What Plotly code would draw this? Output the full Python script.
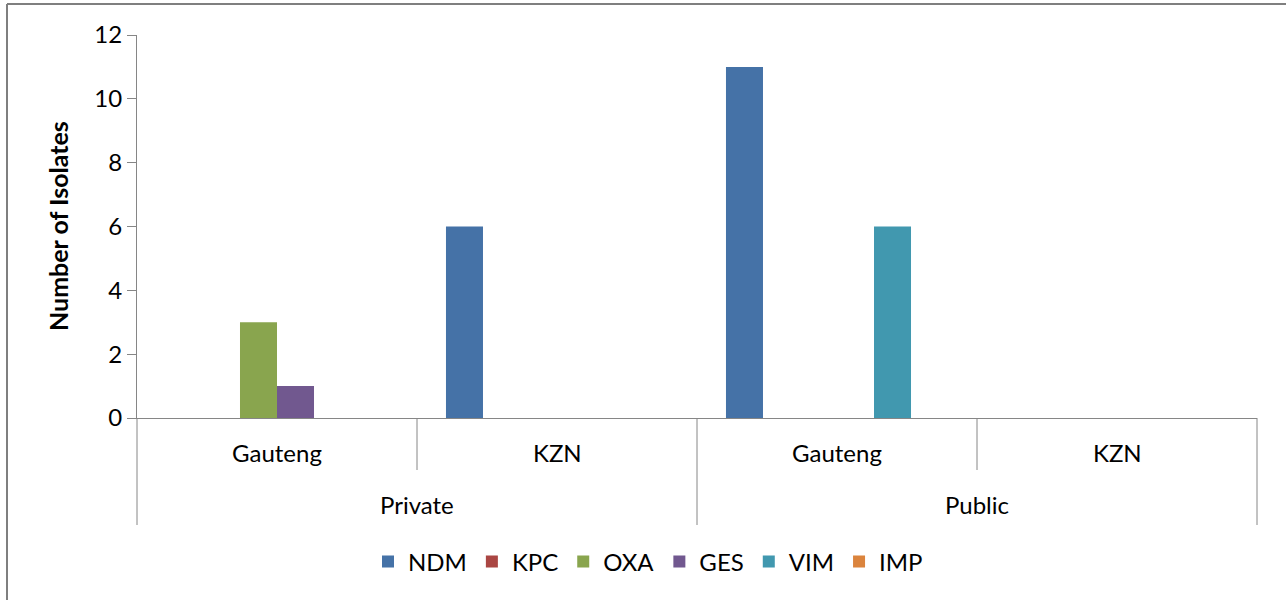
import plotly.graph_objects as go

sectors = ["Private", "Private", "Public", "Public"]
provinces = ["Gauteng", "KZN", "Gauteng", "KZN"]
series_names = ["NDM", "KPC", "OXA", "GES", "VIM", "IMP"]
ndm = [0, 6, 11, 0]
kpc = [0, 0, 0, 0]
oxa = [3, 0, 0, 0]
ges = [1, 0, 0, 0]
vim = [0, 0, 6, 0]
imp = [0, 0, 0, 0]
colors = ["#4572A7", "#AA4643", "#89A54E", "#71588F", "#4198AF", "#DB843D"]
y_ticks = [0, 2, 4, 6, 8, 10, 12]

FONT = "Lato"
FS = 24
values = [ndm, kpc, oxa, ges, vim, imp]

fig = go.Figure()
for name, vals, col in zip(series_names, values, colors):
    fig.add_trace(go.Bar(x=[sectors, provinces], y=vals, name=name,
                         marker=dict(color=col, line=dict(width=0))))

W, H = 1286, 600
L, R, T, B = 137, 29, 35, 182
pw = W - L - R
ph = H - T - B

def py(pix):
    return (H - B - pix) / ph

def px(pix):
    return (pix - L) / pw

shapes = []
n = len(provinces)
for i in range(n + 1):
    outer = (i == 0 or i == n or sectors[i - 1] != sectors[i])
    bottom = 525 if outer else 470
    shapes.append(dict(type="line", xref="paper", yref="paper", x0=i / n, x1=i / n,
                       y0=0, y1=py(bottom), line=dict(color="#868686", width=1)))
# outer chart border (only top and left edges are visible)
shapes.append(dict(type="line", xref="paper", yref="paper", x0=px(7), x1=px(1300),
                   y0=py(4), y1=py(4), line=dict(color="#7f7f7f", width=2)))
shapes.append(dict(type="line", xref="paper", yref="paper", x0=px(7), x1=px(7),
                   y0=py(4), y1=py(620), line=dict(color="#7f7f7f", width=2)))

annotations = []
for i, p in enumerate(provinces):
    annotations.append(dict(text=p, xref="paper", yref="paper", x=(i + 0.5) / n, y=py(453),
                            showarrow=False, xanchor="center", yanchor="middle",
                            font=dict(family=FONT, size=FS, color="#000000")))
seen = []
for s in sectors:
    if s not in seen:
        seen.append(s)
for s in seen:
    idx = [i for i, v in enumerate(sectors) if v == s]
    cx = (min(idx) + max(idx) + 1) / 2 / n
    annotations.append(dict(text=s, xref="paper", yref="paper", x=cx, y=py(505),
                            showarrow=False, xanchor="center", yanchor="middle",
                            font=dict(family=FONT, size=FS, color="#000000")))
annotations.append(dict(text="<b>Number of Isolates</b>", xref="paper", yref="paper",
                        x=px(58), y=py(226), textangle=-90, showarrow=False,
                        xanchor="center", yanchor="middle",
                        font=dict(family=FONT, size=25, color="#000000")))

fig.update_layout(
    width=W, height=H,
    margin=dict(l=L, r=R, t=T, b=B, autoexpand=False),
    paper_bgcolor="white", plot_bgcolor="white",
    barmode="group", bargap=0.207, bargroupgap=0,
    font=dict(family=FONT, size=FS, color="#000000"),
    showlegend=True,
    legend=dict(orientation="h", x=px(648), xanchor="center", y=py(562), yanchor="middle",
                font=dict(family=FONT, size=FS), itemwidth=30, traceorder="normal"),
    shapes=shapes, annotations=annotations,
    xaxis=dict(showticklabels=False, showline=True, linecolor="#868686", linewidth=1,
               ticks="", showgrid=False, zeroline=False, showdividers=False),
    yaxis=dict(range=[0, 12], tickvals=y_ticks, showline=True, linecolor="#868686", linewidth=1,
               ticks="outside", ticklen=9, tickcolor="#868686", showgrid=False, zeroline=False,
               tickfont=dict(family=FONT, size=FS)),
)

fig.write_html("out.html", config={"displayModeBar": False},
               post_script="document.body.style.margin='0';document.body.style.padding='0';")
